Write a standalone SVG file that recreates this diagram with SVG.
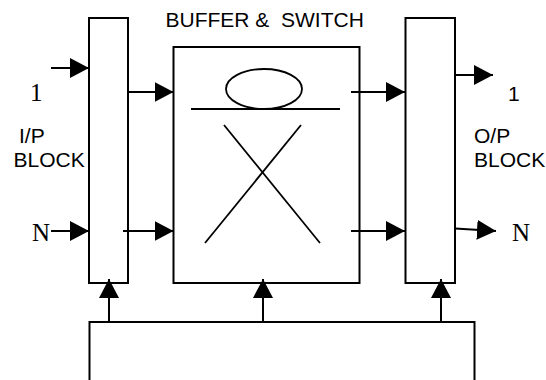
<svg xmlns="http://www.w3.org/2000/svg" width="546" height="380" viewBox="0 0 546 380">
  <style>
    .box { fill: none; stroke: #000; stroke-width: 2; }
    .wire { fill: none; stroke: #000; stroke-width: 2; marker-end: url(#arrow); }
    .thin { fill: none; stroke: #000; stroke-width: 1.8; }
    .sans { font-family: "Liberation Sans", Arial, sans-serif; font-size: 21px; fill: #000; }
    .serif { font-family: "Liberation Serif", "Times New Roman", serif; font-size: 25px; fill: #000; }
  </style>
  <defs>
    <marker id="arrow" markerUnits="userSpaceOnUse" viewBox="0 0 19 20" markerWidth="19" markerHeight="20" refX="19" refY="10" orient="auto">
      <path d="M0,0 L19,10 L0,20 Z" fill="#000"/>
    </marker>
  </defs>
  <rect width="546" height="380" fill="#fff"/>

  <!-- input block -->
  <g id="ip-block">
    <rect class="box" x="89" y="18" width="39" height="265"/>
    <text class="sans" x="19" y="143">I/P</text>
    <text class="sans" x="13.5" y="167">BLOCK</text>
    <text class="serif" x="30" y="101">1</text>
    <text class="serif" x="32" y="241">N</text>
  </g>

  <!-- buffer and switch fabric -->
  <g id="buffer-switch">
    <text class="sans" x="165.5" y="27" xml:space="preserve">BUFFER &amp;  SWITCH</text>
    <rect class="box" x="173.5" y="47" width="186" height="236"/>
    <ellipse class="thin" cx="264" cy="89" rx="38" ry="20"/>
    <line class="thin" x1="191" y1="109" x2="340" y2="109"/>
    <line class="thin" x1="224" y1="125" x2="320" y2="243"/>
    <line class="thin" x1="301" y1="125" x2="205" y2="243"/>
  </g>

  <!-- output block -->
  <g id="op-block">
    <rect class="box" x="405.5" y="18" width="49.5" height="265"/>
    <text class="sans" x="474" y="143">O/P</text>
    <text class="sans" x="474" y="167">BLOCK</text>
    <text class="sans" x="508" y="101">1</text>
    <text class="serif" x="512" y="241">N</text>
  </g>

  <!-- control unit -->
  <g id="control">
    <rect class="box" x="89.5" y="322" width="385" height="80"/>
  </g>

  <!-- connectors -->
  <g id="connectors">
    <path class="wire" d="M51,68 H89"/>
    <path class="wire" d="M51,231 H89"/>
    <path class="wire" d="M128,92 H173.5"/>
    <path class="wire" d="M123,231 H173.5"/>
    <path class="wire" d="M351,92 H405"/>
    <path class="wire" d="M351,231 H405"/>
    <path class="wire" d="M455,75 H493"/>
    <path class="wire" d="M455,228.5 L496,231"/>
    <path class="wire" d="M109,322 V279"/>
    <path class="wire" d="M263,322 V279"/>
    <path class="wire" d="M441,322 V279"/>
  </g>
</svg>
